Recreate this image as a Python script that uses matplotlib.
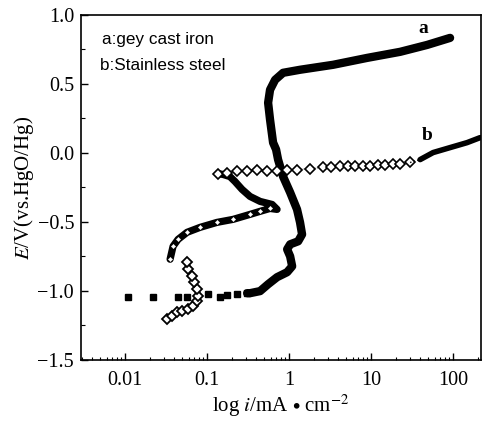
import matplotlib
matplotlib.use("Agg")
import matplotlib.pyplot as plt
from matplotlib.ticker import LogLocator, FixedLocator, MultipleLocator, FixedFormatter

plt.rcParams['font.family'] = ['Liberation Serif', 'DejaVu Serif']
plt.rcParams['mathtext.fontset'] = 'stix'

# ---- curve a: grey cast iron (current density mA/cm2, potential V) ----
a_sparse_i = [0.0109, 0.0219, 0.0443, 0.057, 0.103, 0.144, 0.175, 0.232, 0.308]
a_sparse_E = [-1.043, -1.043, -1.043, -1.043, -1.023, -1.047, -1.028, -1.023, -1.016]
a_i = [0.308, 0.334, 0.443, 0.555, 0.714, 0.946, 1.09, 1.03, 0.946, 1.03, 1.29, 1.44,
       1.36, 1.25, 1.03, 0.845, 0.734, 0.694, 0.638, 0.586, 0.555, 0.586, 0.675,
       0.845, 1.36, 3.44, 8.94, 22.6, 48.2, 91.8]
a_E = [-1.016, -1.016, -1.001, -0.951, -0.900, -0.864, -0.821, -0.749, -0.698, -0.662,
       -0.640, -0.590, -0.503, -0.409, -0.286, -0.171, -0.048, 0.025, 0.075, 0.241,
       0.364, 0.458, 0.530, 0.581, 0.603, 0.639, 0.689, 0.733, 0.783, 0.834]

# ---- curve b: stainless steel ----
b_cath_i = [0.0325, 0.0374, 0.0431, 0.0495, 0.0586, 0.0675, 0.0755, 0.0777, 0.0755,
            0.0693, 0.0656, 0.0586, 0.057]
b_cath_E = [-1.204, -1.182, -1.153, -1.146, -1.132, -1.110, -1.074, -1.038, -0.987,
            -0.936, -0.893, -0.842, -0.792]
b_act_i = [0.0354, 0.0385, 0.0443, 0.057, 0.0822, 0.132, 0.208, 0.334, 0.443, 0.586,
           0.714, 0.621, 0.443, 0.334, 0.267, 0.219, 0.190, 0.157, 0.136]
b_act_E = [-0.770, -0.676, -0.626, -0.575, -0.539, -0.503, -0.481, -0.445, -0.423,
           -0.402, -0.409, -0.373, -0.351, -0.315, -0.264, -0.207, -0.171, -0.156, -0.149]
b_pass_i = [0.136, 0.175, 0.232, 0.308, 0.407, 0.539, 0.714, 0.946, 1.25, 1.80,
            2.60, 3.2, 4.19, 5.2, 6.38, 7.9, 9.73, 12.0, 14.8, 18.3, 22.6, 29.9]
b_pass_E = [-0.149, -0.142, -0.134, -0.127, -0.120, -0.127, -0.134, -0.120, -0.120,
            -0.113, -0.105, -0.100, -0.098, -0.098, -0.098, -0.095, -0.091, -0.088,
            -0.084, -0.080, -0.077, -0.069]
b_trans_i = [29.9, 39.6, 57.0, 91.8, 148.0, 213.0]
b_trans_E = [-0.069, -0.048, 0.003, 0.039, 0.075, 0.111]

x_ticks = [0.01, 0.1, 1, 10, 100]
x_ticklabels = ['0.01', '0.1', '1', '10', '100']
y_ticks = [-1.5, -1.0, -0.5, 0.0, 0.5, 1.0]
y_ticklabels = ['\u22121.5', '\u22121.0', '\u22120.5', '0.0', '0.5', '1.0']

fig = plt.figure(figsize=(4.82, 4.22), dpi=100)
ax = fig.add_axes([0.168, 0.147, 0.830, 0.8175])

# curve a
ax.plot(a_sparse_i, a_sparse_E, ls='none', marker='s', ms=4.8, color='black')
ax.plot(a_i, a_E, color='black', lw=6.0, solid_capstyle='round', solid_joinstyle='round')

# curve b
ax.plot(b_cath_i[6:], b_cath_E[6:], color='black', lw=4.0, solid_capstyle='round')
ax.plot(b_cath_i, b_cath_E, ls='none', marker='D', ms=5, mfc='white', mec='black', mew=1.3)
ax.plot(b_act_i, b_act_E, color='black', lw=5.2, solid_capstyle='round', solid_joinstyle='round')
ax.plot(b_act_i[:10], b_act_E[:10], ls='none', marker='D', ms=2.2, mfc='white', mec='white', mew=0.3)
ax.plot(b_pass_i, b_pass_E, color='black', lw=0.6, ls=':')
ax.plot(b_pass_i, b_pass_E, ls='none', marker='D', ms=5, mfc='white', mec='black', mew=1.2)
ax.plot(b_trans_i[:2], b_trans_E[:2], color='black', lw=1.0, ls=':')
ax.plot(b_trans_i[1:], b_trans_E[1:], color='black', lw=4.0, solid_capstyle='round')

ax.set_xscale('log')
ax.set_xlim(0.0029, 219)
ax.set_ylim(-1.5, 1.0)

ax.xaxis.set_major_locator(FixedLocator(x_ticks))
ax.xaxis.set_major_formatter(FixedFormatter(x_ticklabels))
ax.xaxis.set_minor_locator(LogLocator(base=10, subs=range(2, 10)))
ax.yaxis.set_major_locator(FixedLocator(y_ticks))
ax.yaxis.set_major_formatter(FixedFormatter(y_ticklabels))
ax.yaxis.set_minor_locator(MultipleLocator(0.25))

ax.tick_params(which='both', direction='in', top=False, right=False)
ax.tick_params(axis='x', which='major', length=5, width=1.0, pad=8, labelsize=14.5)
ax.tick_params(axis='x', which='minor', length=2.5, width=0.8)
ax.tick_params(axis='y', which='major', length=5, width=1.0, pad=5, labelsize=14.5)
ax.tick_params(axis='y', which='minor', length=3, width=0.8)
for s in ax.spines.values():
    s.set_linewidth(1.2)

ax.set_xlabel(r'log $i$/mA $\bullet$ cm$^{-2}$', fontsize=15, labelpad=2)
ax.set_ylabel(r'$E$/V(vs.HgO/Hg)', fontsize=15, labelpad=1)

ax.text(0.052, 0.93, 'a:gey cast iron', transform=ax.transAxes, fontsize=12.3,
        family=['Liberation Sans'], va='center', ha='left')
ax.text(0.047, 0.855, 'b:Stainless steel', transform=ax.transAxes, fontsize=12.3,
        family=['Liberation Sans'], va='center', ha='left')
ax.text(43, 0.90, 'a', fontsize=14, fontweight='bold', ha='center', va='center')
ax.text(48, 0.125, 'b', fontsize=14, fontweight='bold', ha='center', va='center')

fig.savefig('out.png', dpi=100)
